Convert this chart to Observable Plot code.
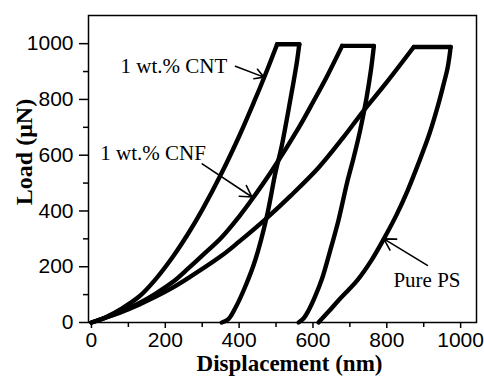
<!DOCTYPE html>
<html><head><meta charset="utf-8">
<script src="https://cdn.jsdelivr.net/npm/d3@7"></script>
<script src="https://cdn.jsdelivr.net/npm/@observablehq/plot@0.6"></script>
<style>body{margin:0;background:#fff;color:#000}</style>
</head><body><div id="chart"></div>
<script>
// Displacement (nm), Load (µN) pairs
const cntLoading = [[0,0],[40,20],[82,50],[130,94],[173,154],[220,235],[263,321],[300,404],[353,537],[400,668],[440,790],[470,886],[503,998]];
const cntUnloading = [[563,998],[556,930],[545,845],[530,735],[515,630],[498,535],[475,380],[444,225],[417,130],[389,50],[371,12],[353,0]];
const cnfLoading = [[0,0],[40,18],[82,40],[130,70],[173,103],[220,145],[263,195],[300,240],[353,306],[400,380],[434,440],[489,545],[560,695],[603,797],[640,888],[679,992]];
const cnfUnloading = [[765,992],[757,905],[745,805],[728,690],[710,590],[693,505],[669,366],[645,250],[624,155],[605,91],[588,43],[575,15],[561,0]];
const psLoading = [[0,0],[40,18],[82,38],[130,65],[173,92],[220,125],[263,160],[353,240],[400,290],[471,370],[540,455],[615,555],[680,660],[738,761],[800,862],[873,988]];
const psUnloading = [[973,988],[965,915],[953,850],[938,775],[915,675],[887,575],[857,475],[826,385],[792,300],[757,220],[720,151],[695,115],[669,79],[643,40],[624,13],[615,0]];
const baselineDisp = [0, 480];

const sampleNames = ["1 wt.% CNT", "1 wt.% CNF", "Pure PS"];
const labelDisp = [79, 24, 818];
const labelLoad = [918, 606, 151];
const arrowFromDisp = [390, 300, 910];
const arrowFromLoad = [919, 569, 205];
const arrowToDisp = [467, 435, 792];
const arrowToLoad = [880, 450, 300];

const majorTicks = [0, 200, 400, 600, 800, 1000];
const minorTicks = [100, 300, 500, 700, 900];

const curveSets = [[cntLoading, cntUnloading], [cnfLoading, cnfUnloading], [psLoading, psUnloading]];
const rows = [];
curveSets.forEach(([ld, ul], i) => {
  const add = (phase, pts) => pts.forEach(([x, y]) => rows.push({key: sampleNames[i] + phase, x, y}));
  add("load", ld);
  add("hold", [ld[ld.length - 1], ul[0]]);
  add("unload", ul);
});
const baseline = baselineDisp.map(x => ({x, y: 0}));
const annot = sampleNames.map((t, i) => ({
  text: t, lx: labelDisp[i], ly: labelLoad[i],
  x1: arrowFromDisp[i], y1: arrowFromLoad[i], x2: arrowToDisp[i], y2: arrowToLoad[i]
}));

const sans = "Liberation Sans, Arial, sans-serif";
const serif = "Liberation Serif, Times New Roman, serif";
const fmt = d => String(d);

const chart = Plot.plot({
  width: 484, height: 376,
  marginLeft: 88, marginRight: 8, marginTop: 15, marginBottom: 54,
  style: {background: "#fff", color: "#000"},
  x: {domain: [-8, 1043], label: null},
  y: {domain: [0, 1101], label: null},
  marks: [
    Plot.line(baseline, {x: "x", y: "y", stroke: "#000", strokeWidth: 1.2, strokeDasharray: "2,2"}),
    Plot.line(rows, {x: "x", y: "y", z: "key", curve: "catmull-rom", stroke: "#000", strokeWidth: 4.4, strokeLinejoin: "round", strokeLinecap: "round"}),
    Plot.arrow(annot, {x1: "x1", y1: "y1", x2: "x2", y2: "y2", stroke: "#000", strokeWidth: 1.6, headLength: 12, bend: 0}),
    Plot.text(annot, {x: "lx", y: "ly", text: "text", textAnchor: "start", fontFamily: serif, fontSize: 21, fill: "#000"}),
    Plot.frame({stroke: "#000", strokeWidth: 1.5}),
    Plot.axisY(majorTicks, {tickSize: 9, tickPadding: 6, tickFormat: fmt, fontSize: 21, fontFamily: sans, label: null, strokeWidth: 1.5}),
    Plot.axisY(minorTicks, {tickSize: 5, text: null, label: null, strokeWidth: 1.5}),
    Plot.axisX(majorTicks, {tickSize: 6, tickPadding: 4, tickFormat: fmt, fontSize: 21, fontFamily: sans, label: null, strokeWidth: 1.5}),
    Plot.axisX(minorTicks, {tickSize: 5, text: null, label: null, strokeWidth: 1.5}),
    Plot.text(["Displacement (nm)"], {frameAnchor: "bottom", lineAnchor: "middle", textAnchor: "middle", dx: 7, dy: 41, fontFamily: serif, fontWeight: "bold", fontSize: 23, fill: "#000"}),
    Plot.text(["Load (μN)"], {frameAnchor: "left", lineAnchor: "middle", textAnchor: "middle", rotate: -90, dx: -64, dy: -17, fontFamily: serif, fontWeight: "bold", fontSize: 24, fill: "#000"})
  ]
});
document.getElementById("chart").append(chart);
</script>
</body></html>
